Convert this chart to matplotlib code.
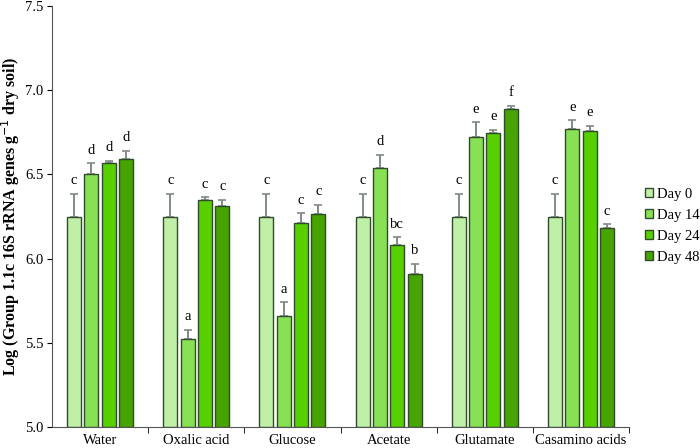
import numpy as np
import matplotlib
matplotlib.use("Agg")
import matplotlib.pyplot as plt

plt.rcParams['font.family'] = ['Liberation Serif', 'DejaVu Serif']

categories = ["Water", "Oxalic acid", "Glucose", "Acetate", "Glutamate", "Casamino acids"]
series = ["Day 0", "Day 14", "Day 24", "Day 48"]

day0 = [6.245, 6.245, 6.245, 6.245, 6.245, 6.245]
day14 = [6.50, 5.52, 5.66, 6.54, 6.72, 6.77]
day24 = [6.565, 6.345, 6.21, 6.08, 6.745, 6.76]
day48 = [6.59, 6.31, 6.265, 5.91, 6.89, 6.18]

err0 = [0.14, 0.14, 0.14, 0.14, 0.14, 0.14]
err14 = [0.065, 0.057, 0.08, 0.077, 0.089, 0.053]
err24 = [0.016, 0.02, 0.06, 0.047, 0.021, 0.03]
err48 = [0.05, 0.04, 0.055, 0.06, 0.018, 0.024]

letters0 = ["c", "c", "c", "c", "c", "c"]
letters14 = ["d", "a", "a", "d", "e", "e"]
letters24 = ["d", "c", "c", "bc", "e", "e"]
letters48 = ["d", "c", "c", "b", "f", "c"]

values = [day0, day14, day24, day48]
errors = [err0, err14, err24, err48]
letters = [letters0, letters14, letters24, letters48]
colors = ["#c0f0a8", "#88e055", "#58d000", "#46a300"]

fig = plt.figure(figsize=(7.0, 4.48), dpi=100)
ax = fig.add_axes([0.0743, 0.0469, 0.8243, 0.9397])

x = np.arange(len(categories))
width = 0.146
step = 0.18
for i, (vals, errs, labs) in enumerate(zip(values, errors, letters)):
    pos = x + (i - 1.5) * step
    ax.bar(pos, np.array(vals) - 5.0, width, bottom=5.0, color=colors[i],
           edgecolor="#2f4a2c", linewidth=1.0, label=series[i], zorder=2)
    ax.errorbar(pos, vals, yerr=[np.zeros(len(errs)), errs], fmt='none',
                ecolor="#808a86", elinewidth=1.4, capsize=3, capthick=1.2, zorder=1)
    for p, v, e, t in zip(pos, vals, errs, labs):
        ax.text(p, v + e + 0.056, t, ha='center', va='baseline', fontsize=10.5)

ax.set_xlim(-0.5, len(categories) - 0.5)
ax.set_ylim(5.0, 7.5)
yt = np.arange(5.0, 7.51, 0.5)
ax.set_yticks(yt)
ax.set_yticklabels([f"{v:.1f}" for v in yt], fontsize=10.5)
ax.set_xticks(x)
ax.set_xticklabels(categories, fontsize=10.5)
ax.tick_params(axis='x', which='major', length=0, pad=5)
ax.set_xticks(np.arange(0.5, len(categories) - 0.4, 1.0), minor=True)
ax.tick_params(axis='x', which='minor', length=4, direction='out')
ax.tick_params(axis='y', length=3.5, direction='out', pad=2.5)
for s in ['left', 'bottom']:
    ax.spines[s].set_color('#555555')
ax.spines['top'].set_visible(False)
ax.spines['right'].set_visible(False)
ax.set_ylabel(r"Log (Group 1.1c 16S rRNA genes g$^{-1}$ dry soil)", fontsize=11.5,
              fontweight='bold', labelpad=2.5)

fig.legend(loc='center left', bbox_to_anchor=(0.922, 0.496), frameon=False,
           fontsize=10.5, handlelength=0.55, handleheight=0.55, handletextpad=0.25,
           labelspacing=0.55, borderpad=0, borderaxespad=0)

fig.savefig("out.png", dpi=100)
